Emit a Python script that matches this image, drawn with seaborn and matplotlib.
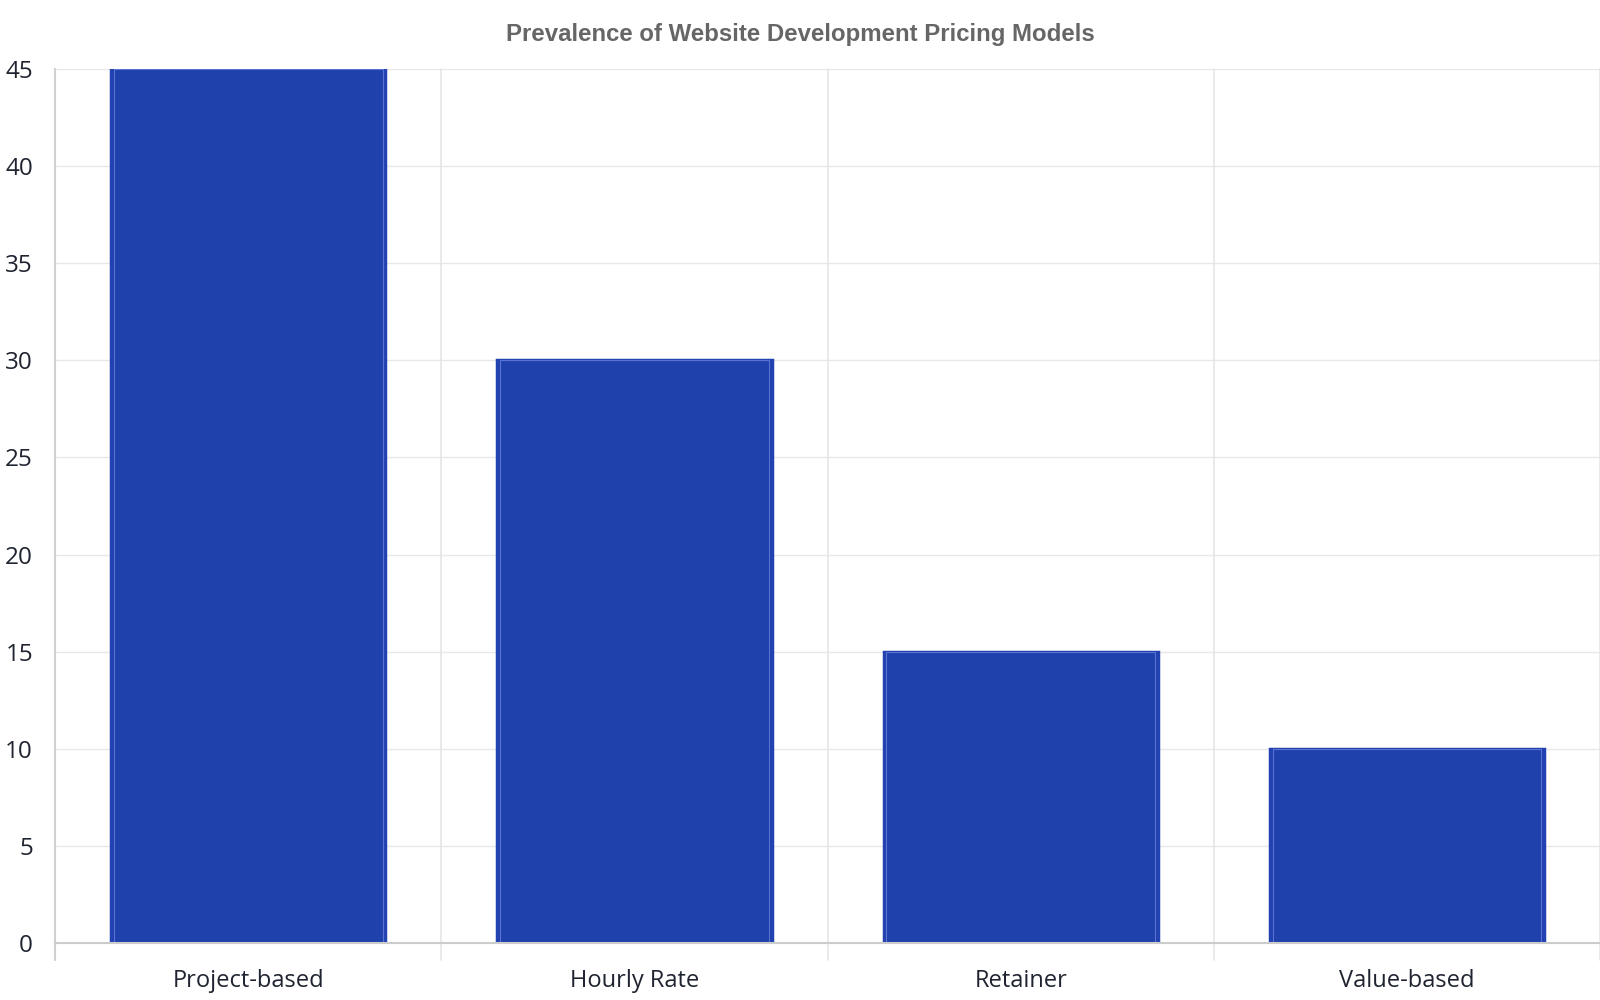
import matplotlib
matplotlib.use("Agg")
import matplotlib.pyplot as plt
import seaborn as sns
import pandas as pd

models = ["Project-based", "Hourly Rate", "Retainer", "Value-based"]
prevalence = [45, 30, 15, 10]
yticks = [0, 5, 10, 15, 20, 25, 30, 35, 40, 45]

df = pd.DataFrame({"model": models, "prevalence": prevalence})

sns.set_theme(style="white")
plt.rcParams["font.family"] = ["Open Sans", "DejaVu Sans"]

fig = plt.figure(figsize=(16, 10), dpi=100)
ax = fig.add_axes([0.0345, 0.057, 0.9655, 0.874])

sns.barplot(data=df, x="model", y="prevalence", color="#1f41ab", width=0.71,
            edgecolor="#2142b0", linewidth=2.5, saturation=1, ax=ax)
# thin lighter inner outline like the reference
sns.barplot(data=df, x="model", y="prevalence", color="none", width=0.695,
            edgecolor="#5a72d0", linewidth=0.8, saturation=1, ax=ax)

ax.set_ylim(0, 45)
ax.set_xlim(-0.5, len(models) - 0.5)
ax.set_yticks(yticks)
ax.set_yticklabels([str(v) for v in yticks], fontsize=17.5, color="#1f2430")
ax.set_xticks(range(len(models)))
ax.set_xticklabels(models, fontsize=17, color="#1f2430")
ax.tick_params(axis="x", length=0, pad=19)
ax.tick_params(axis="y", length=0, pad=16)

# horizontal grid
for v in yticks:
    ax.axhline(v, color="#e8e8e8", linewidth=1, zorder=0)
# vertical grid at category boundaries, extending below the axis
for b in [i - 0.5 for i in range(len(models) + 1)]:
    ax.plot([b, b], [-0.85, 45], color="#e6e6e6", linewidth=1.2, zorder=0,
            clip_on=False)
ax.plot([-0.5, -0.5], [-0.85, 45], color="#d0d0d0", linewidth=1.5,
        zorder=1, clip_on=False)

for s in ["top", "right", "left"]:
    ax.spines[s].set_visible(False)
ax.spines["bottom"].set_color("#cccccc")
ax.spines["bottom"].set_linewidth(1.5)

ax.set_xlabel("")
ax.set_ylabel("")
fig.text(0.5, 0.966, "Prevalence of Website Development Pricing Models",
         ha="center", va="center", fontsize=17.3, fontweight="bold",
         color="#666666", family=["Liberation Sans", "DejaVu Sans"])

fig.savefig("out.png", dpi=100, facecolor="white")
